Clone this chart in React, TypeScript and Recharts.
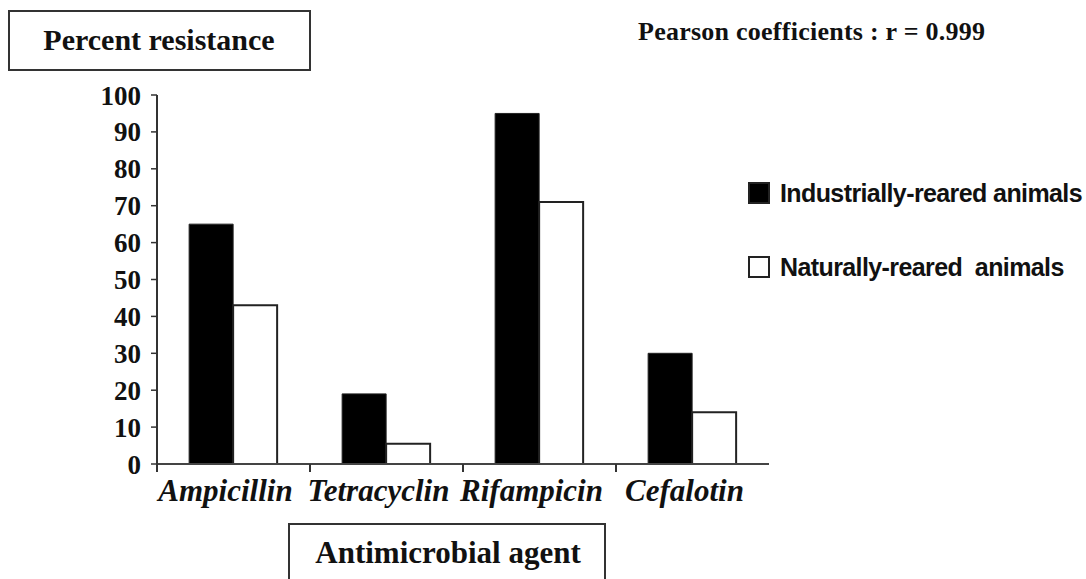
import React from "react";
import { BarChart, Bar, XAxis, YAxis } from "recharts";

const categories = ["Ampicillin", "Tetracyclin", "Rifampicin", "Cefalotin"];
const industrial = [65, 19, 95, 30];
const natural = [43, 5.5, 71, 14];
const yTicks = [0, 10, 20, 30, 40, 50, 60, 70, 80, 90, 100];
const seriesNames = ["Industrially-reared animals", "Naturally-reared  animals"];
const seriesFills = ["#000", "#fff"];

const data = categories.map((c, i) => ({ name: c, ind: industrial[i], nat: natural[i] }));

const W = 1086;
const H = 579;
const M = { top: 95, right: 317, bottom: 75, left: 97 };
const Y_AXIS_W = 60;
const X_AXIS_H = 40;
const PLOT_W = W - M.left - M.right - Y_AXIS_W;
const BAND_HALF = PLOT_W / categories.length / 2;

const SERIF = '"Liberation Serif", "Times New Roman", serif';
const SANS = '"Liberation Sans", Arial, sans-serif';

const XTick = (props: any) => {
  const { x, y, payload } = props;
  return (
    <g>
      <line x1={x - BAND_HALF} x2={x - BAND_HALF} y1={y} y2={y + 8} stroke="#333" strokeWidth={2} />
      <text
        x={x - 8}
        y={y + 37}
        textAnchor="middle"
        fontFamily={SERIF}
        fontWeight="bold"
        fontStyle="italic"
        fontSize={31}
        fill="#111"
      >
        {payload.value}
      </text>
    </g>
  );
};

const LegendBox = () => (
  <div
    style={{
      position: "absolute",
      left: 748,
      top: 181,
      width: 340,
      fontFamily: SANS,
      fontWeight: "bold",
      fontSize: 25,
      letterSpacing: -0.6,
      color: "#111",
      pointerEvents: "none",
    }}
  >
    {seriesNames.map((n, i) => (
      <div
        key={n}
        style={{ display: "flex", alignItems: "center", height: 24, marginBottom: i === 0 ? 50 : 0, whiteSpace: "pre", lineHeight: "24px" }}
      >
        <span
          style={{
            display: "inline-block",
            boxSizing: "border-box",
            width: 22,
            height: 22,
            background: seriesFills[i],
            border: "2px solid #222",
            marginRight: 10,
            flex: "none",
          }}
        />
        <span>{n}</span>
      </div>
    ))}
  </div>
);

export default function App() {
  return (
    <div style={{ position: "absolute", left: 0, top: 0, width: W, height: H, background: "#fff" }}>
      <BarChart width={W} height={H} data={data} margin={M} barCategoryGap="21%" barGap={0}>
        <XAxis
          dataKey="name"
          height={X_AXIS_H}
          tickSize={0}
          tickMargin={0}
          tickLine={false}
          tick={<XTick />}
          axisLine={{ stroke: "#444", strokeWidth: 2 }}
          interval={0}
        />
        <YAxis
          width={Y_AXIS_W}
          domain={[0, 100]}
          ticks={yTicks}
          interval={0}
          tickSize={6}
          tickMargin={10}
          tickLine={{ stroke: "#333", strokeWidth: 1.5 }}
          axisLine={{ stroke: "#333", strokeWidth: 2 }}
          tick={{ fontFamily: SERIF, fontWeight: "bold", fontSize: 27, fill: "#111" }}
        />
        <Bar dataKey="ind" name={seriesNames[0]} fill={seriesFills[0]} stroke="#222" strokeWidth={1} isAnimationActive={false} />
        <Bar dataKey="nat" name={seriesNames[1]} fill={seriesFills[1]} stroke="#222" strokeWidth={2} isAnimationActive={false} />
      </BarChart>
      <LegendBox />
      <svg width={W} height={H} style={{ position: "absolute", left: 0, top: 0, pointerEvents: "none" }}>
        <rect x={9} y={11} width={301} height={59} fill="none" stroke="#333" strokeWidth={2} />
        <text x={159} y={50} textAnchor="middle" fontFamily={SERIF} fontWeight="bold" fontSize={30} fill="#111">
          Percent resistance
        </text>
        <text x={638} y={40} fontFamily={SERIF} fontWeight="bold" fontSize={26} letterSpacing={0.25} fill="#111">
          Pearson coefficients : r = 0.999
        </text>
        <rect x={289} y={524} width={316} height={70} fill="none" stroke="#333" strokeWidth={2} />
        <text x={448} y={563} textAnchor="middle" fontFamily={SERIF} fontWeight="bold" fontSize={31} fill="#111">
          Antimicrobial agent
        </text>
      </svg>
    </div>
  );
}
